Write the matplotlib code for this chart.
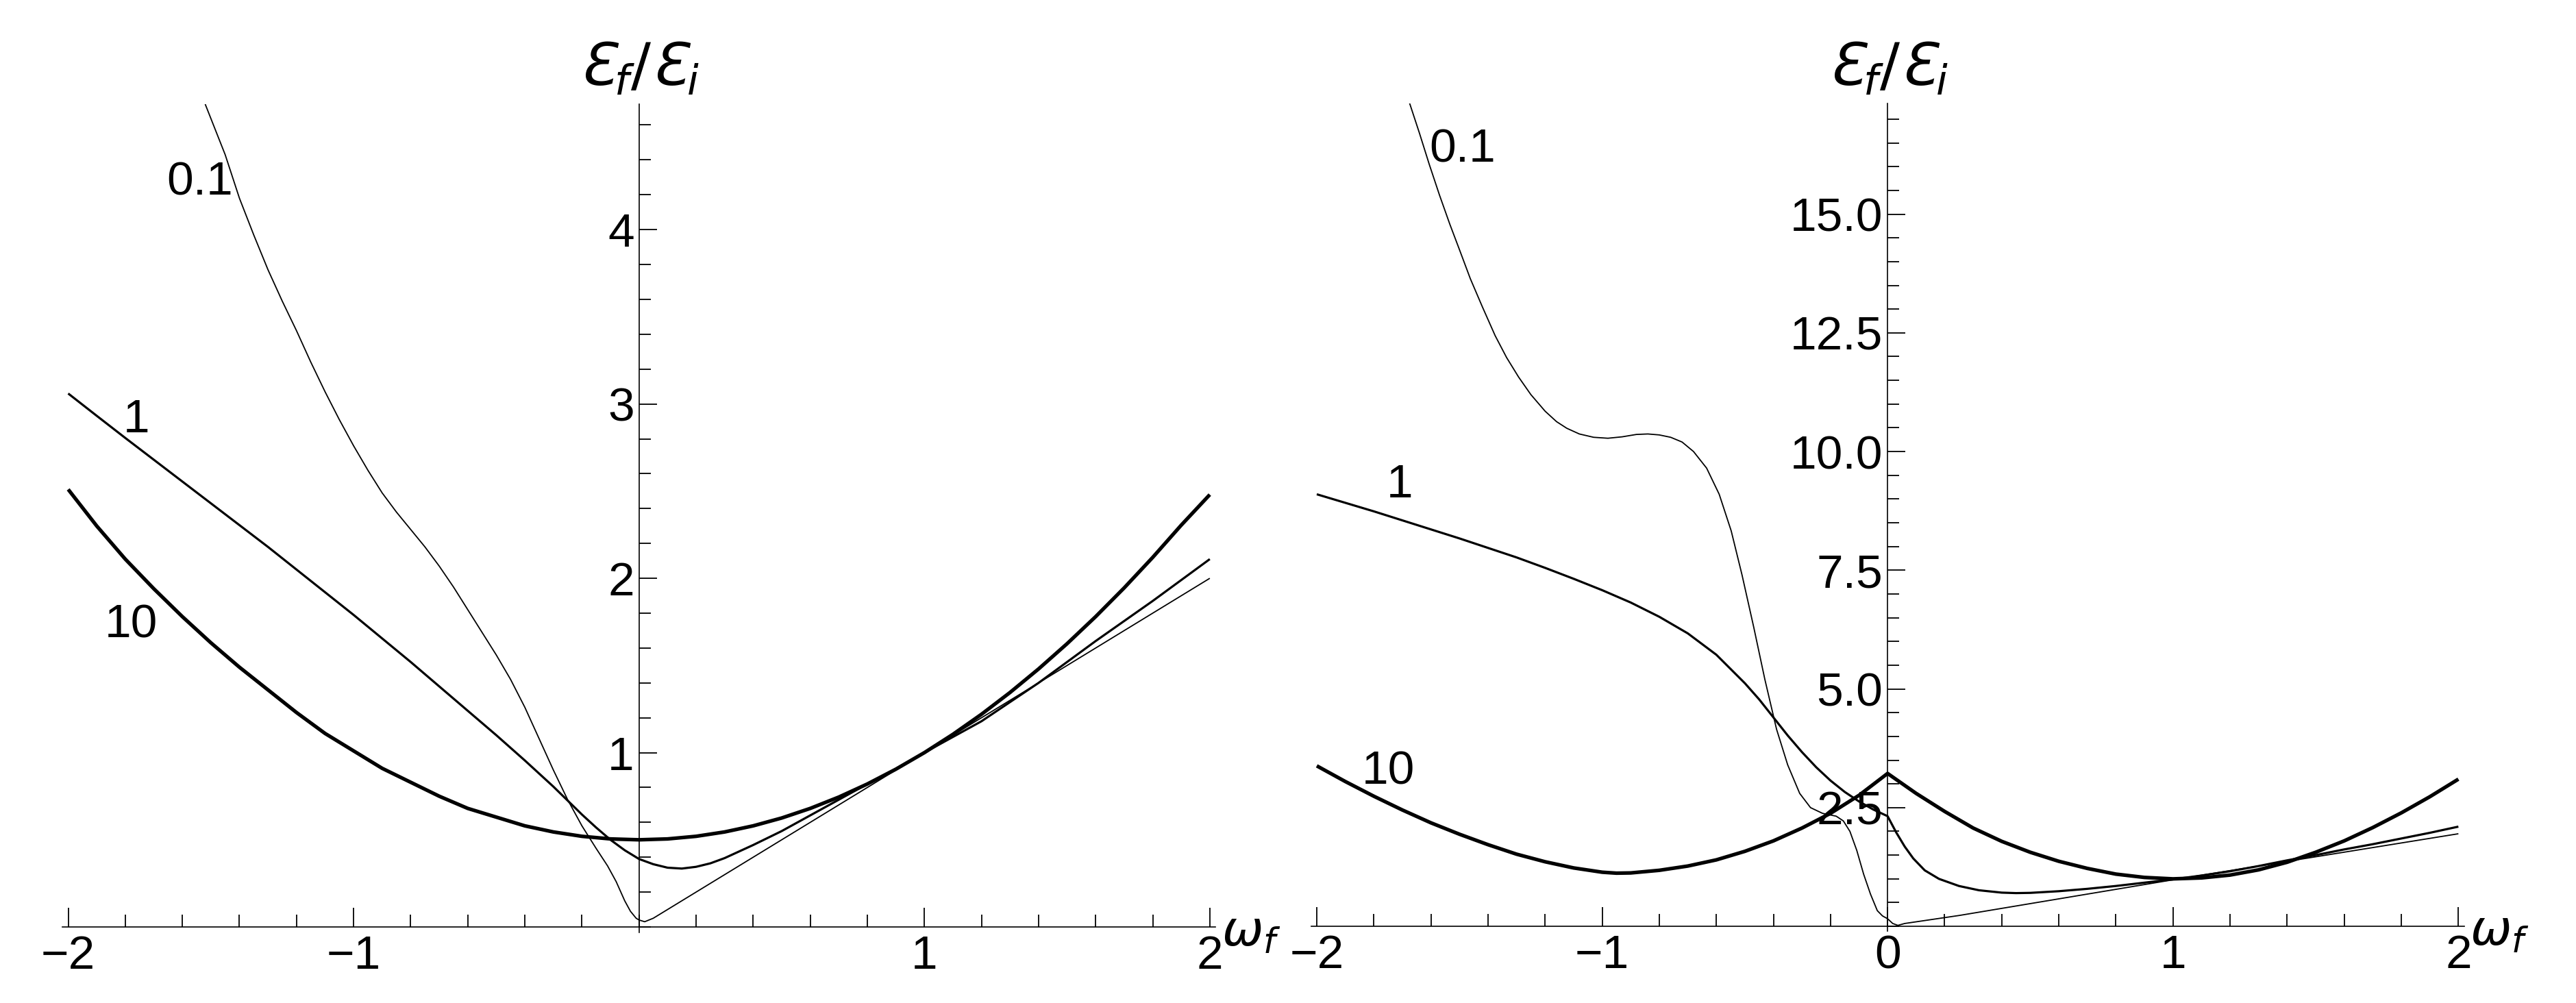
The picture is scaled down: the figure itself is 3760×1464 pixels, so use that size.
import numpy as np
import matplotlib.pyplot as plt
from matplotlib.ticker import FixedLocator, MultipleLocator, FormatStrFormatter

plt.rcParams['font.family'] = ['Liberation Sans', 'DejaVu Sans']
plt.rcParams['mathtext.fontset'] = 'custom'
plt.rcParams['mathtext.rm'] = 'DejaVu Sans'
plt.rcParams['mathtext.it'] = 'DejaVu Sans:italic'

# ---- left panel: curves ----
left_x_10 = [-2.0, -1.9, -1.8, -1.7, -1.6, -1.5, -1.4, -1.3, -1.2, -1.1, -1.0, -0.9, -0.8, -0.7,
             -0.6, -0.5, -0.4, -0.3, -0.2, -0.1, 0.0, 0.1, 0.2, 0.3, 0.4, 0.5, 0.6, 0.7, 0.8, 0.9,
             1.0, 1.1, 1.2, 1.3, 1.4, 1.5, 1.6, 1.7, 1.8, 1.9, 2.0]
left_y_10 = [2.51, 2.30, 2.11, 1.94, 1.78, 1.63, 1.49, 1.36, 1.23, 1.11, 1.01, 0.91, 0.83, 0.75,
             0.68, 0.63, 0.58, 0.545, 0.52, 0.505, 0.50, 0.505, 0.52, 0.545, 0.58, 0.625, 0.68, 0.745,
             0.82, 0.905, 1.0, 1.105, 1.22, 1.345, 1.48, 1.625, 1.78, 1.945, 2.12, 2.305, 2.48]

left_x_1 = [-2.0, -1.9, -1.8, -1.7, -1.6, -1.5, -1.4, -1.3, -1.2, -1.1, -1.0, -0.9, -0.8, -0.7,
            -0.6, -0.5, -0.4, -0.3, -0.25, -0.2, -0.15, -0.1, -0.05, 0.0, 0.05, 0.1, 0.15, 0.2,
            0.25, 0.3, 0.4, 0.5, 0.6, 0.7, 0.8, 0.9, 1.0, 1.2, 1.4, 1.6, 1.8, 2.0]
left_y_1 = [3.06, 2.932, 2.805, 2.68, 2.555, 2.43, 2.305, 2.18, 2.05, 1.92, 1.79, 1.655, 1.52, 1.38,
            1.24, 1.10, 0.955, 0.805, 0.725, 0.645, 0.57, 0.50, 0.44, 0.39, 0.36, 0.34, 0.335, 0.345,
            0.365, 0.395, 0.47, 0.55, 0.64, 0.73, 0.82, 0.905, 1.0, 1.18, 1.40, 1.64, 1.87, 2.11]

left_x_01 = [-1.52, -1.45, -1.4, -1.35, -1.3, -1.25, -1.2, -1.15, -1.1, -1.05, -1.0, -0.95, -0.9,
             -0.85, -0.8, -0.75, -0.7, -0.65, -0.6, -0.55, -0.5, -0.45, -0.4, -0.35, -0.3, -0.25,
             -0.2, -0.15, -0.11, -0.08, -0.05, -0.03, -0.01, 0.0, 0.02, 0.05, 0.1, 0.5, 1.0, 1.5, 2.0]
left_y_01 = [4.72, 4.43, 4.18, 3.97, 3.77, 3.59, 3.42, 3.24, 3.07, 2.91, 2.76, 2.62, 2.49,
             2.38, 2.28, 2.18, 2.07, 1.95, 1.82, 1.69, 1.56, 1.42, 1.26, 1.08, 0.90, 0.73,
             0.58, 0.45, 0.35, 0.26, 0.15, 0.09, 0.05, 0.04, 0.03, 0.05, 0.1, 0.5, 1.0, 1.5, 2.0]

# ---- right panel ----
right_x_10 = [-2.0, -1.9, -1.8, -1.7, -1.6, -1.5, -1.4, -1.3, -1.2, -1.1, -1.0, -0.95, -0.9, -0.8,
              -0.7, -0.6, -0.5, -0.4, -0.3, -0.2, -0.1, 0.0, 0.1, 0.2, 0.3, 0.4, 0.5, 0.6, 0.7,
              0.8, 0.9, 1.0, 1.1, 1.2, 1.3, 1.4, 1.5, 1.6, 1.7, 1.8, 1.9, 2.0]
right_y_10 = [3.38, 3.05, 2.74, 2.45, 2.18, 1.94, 1.72, 1.52, 1.36, 1.23, 1.14, 1.12, 1.125, 1.18,
              1.27, 1.40, 1.58, 1.80, 2.07, 2.38, 2.76, 3.22, 2.80, 2.42, 2.07, 1.79, 1.56, 1.37, 1.22,
              1.10, 1.03, 1.0, 1.02, 1.08, 1.19, 1.35, 1.56, 1.80, 2.08, 2.39, 2.73, 3.10]

right_x_1 = [-2.0, -1.9, -1.8, -1.7, -1.6, -1.5, -1.4, -1.3, -1.2, -1.1, -1.0, -0.9, -0.8, -0.7,
             -0.6, -0.5, -0.45, -0.4, -0.35, -0.3, -0.25, -0.2, -0.15, -0.1, -0.05, 0.0, 0.03,
             0.06, 0.09, 0.13, 0.18, 0.25, 0.32, 0.4, 0.45, 0.5, 0.6, 0.7, 0.8, 0.9, 1.0, 1.1,
             1.2, 1.3, 1.4, 1.5, 1.6, 1.7, 1.8, 1.9, 2.0]
right_y_1 = [9.10, 8.92, 8.74, 8.55, 8.36, 8.17, 7.97, 7.77, 7.55, 7.32, 7.08, 6.82, 6.52, 6.17,
             5.72, 5.12, 4.78, 4.40, 4.02, 3.67, 3.35, 3.07, 2.83, 2.63, 2.46, 2.32, 1.98,
             1.68, 1.43, 1.18, 1.0, 0.85, 0.76, 0.71, 0.70, 0.705, 0.74, 0.79, 0.85, 0.92, 0.99, 1.07,
             1.16, 1.27, 1.39, 1.50, 1.62, 1.73, 1.85, 1.97, 2.10]

right_x_01 = [-1.675, -1.64, -1.606, -1.57, -1.534, -1.5, -1.462, -1.42, -1.375, -1.335, -1.293,
              -1.25, -1.2, -1.16, -1.124, -1.08, -1.03, -0.98, -0.93, -0.88, -0.84, -0.8, -0.76,
              -0.72, -0.68, -0.634, -0.59, -0.548, -0.51, -0.469, -0.43, -0.389, -0.35, -0.308,
              -0.27, -0.228, -0.18, -0.155, -0.132, -0.108, -0.084, -0.06, -0.036, -0.018, 0.0,
              0.018, 0.036, 0.06, 0.252, 1.0, 2.0]
right_y_01 = [17.34, 16.7, 16.05, 15.4, 14.79, 14.25, 13.64, 13.05, 12.44, 11.98, 11.57,
              11.2, 10.85, 10.63, 10.49, 10.37, 10.30, 10.28, 10.31, 10.36, 10.37, 10.35, 10.30,
              10.20, 10.0, 9.65, 9.1, 8.33, 7.4, 6.3, 5.2, 4.15, 3.4, 2.8,
              2.5, 2.38, 2.32, 2.22, 2.0, 1.6, 1.1, 0.68, 0.33, 0.22, 0.16,
              0.06, 0.02, 0.06, 0.23, 0.98, 1.95]

left_ticks_x = [-2, -1, 1, 2]
right_ticks_x = [-2, -1, 0, 1, 2]
left_ticks_y = [1, 2, 3, 4]
right_ticks_y = [2.5, 5.0, 7.5, 10.0, 12.5, 15.0]

# curve labels: (text, x, y)
left_labels = [('0.1', -1.54, 4.27), ('1', -1.76, 2.91), ('10', -1.78, 1.73)]
right_labels = [('0.1', -1.49, 16.36), ('1', -1.71, 9.3), ('10', -1.75, 3.25)]


def setup_axes(ax, xticks, yticks, ylim, yminor, yfmt=None):
    ax.set_xlim(-2.02, 2.02)
    ax.set_ylim(*ylim)
    for s in ['top', 'right']:
        ax.spines[s].set_visible(False)
    for s in ['left', 'bottom']:
        ax.spines[s].set_position(('data', 0))
        ax.spines[s].set_linewidth(1.2)
    ax.xaxis.set_major_locator(FixedLocator(xticks))
    ax.xaxis.set_minor_locator(MultipleLocator(0.2))
    ax.yaxis.set_major_locator(FixedLocator(yticks))
    ax.yaxis.set_minor_locator(MultipleLocator(yminor))
    if yfmt:
        ax.yaxis.set_major_formatter(FormatStrFormatter(yfmt))
    ax.tick_params(axis='x', which='major', direction='in', length=20, width=1.3, pad=8, labelsize=50)
    ax.tick_params(axis='x', which='minor', direction='in', length=13, width=1.3)
    ax.tick_params(axis='y', which='major', direction='in', length=19, width=1.3, pad=5, labelsize=50)
    ax.tick_params(axis='y', which='minor', direction='in', length=12, width=1.3)
    ax.annotate(r'$Ɛ_f/Ɛ_i$', xy=(0, 1), xycoords=('data', 'axes fraction'),
                xytext=(0, 7), textcoords='offset points', ha='center', va='bottom', fontsize=62)
    ax.annotate(r'$\omega_f$', xy=(1, 0), xycoords=('axes fraction', 'data'),
                xytext=(6, -6), textcoords='offset points', ha='left', va='center', fontsize=52)


fig = plt.figure(figsize=(37.6, 14.64), dpi=100)
ax1 = fig.add_axes([0.02426, 0.0706, 0.4476, 0.8256])
ax2 = fig.add_axes([0.50896, 0.0717, 0.4476, 0.8251])

setup_axes(ax1, left_ticks_x, left_ticks_y, (-0.03, 4.72), 0.2)
setup_axes(ax2, right_ticks_x, right_ticks_y, (-0.1, 17.33), 0.5, '%.1f')

for ax, curves, labels in [
    (ax1, [(left_x_01, left_y_01, 1.3), (left_x_1, left_y_1, 2.3), (left_x_10, left_y_10, 3.8)], left_labels),
    (ax2, [(right_x_01, right_y_01, 1.3), (right_x_1, right_y_1, 2.3), (right_x_10, right_y_10, 3.8)], right_labels),
]:
    for xs, ys, lw in curves:
        ax.plot(xs, ys, color='black', lw=lw, solid_joinstyle='round', solid_capstyle='butt')
    for txt, tx, ty in labels:
        ax.text(tx, ty, txt, fontsize=50, ha='center', va='center')

fig.savefig('out.png', dpi=100, facecolor='white')
